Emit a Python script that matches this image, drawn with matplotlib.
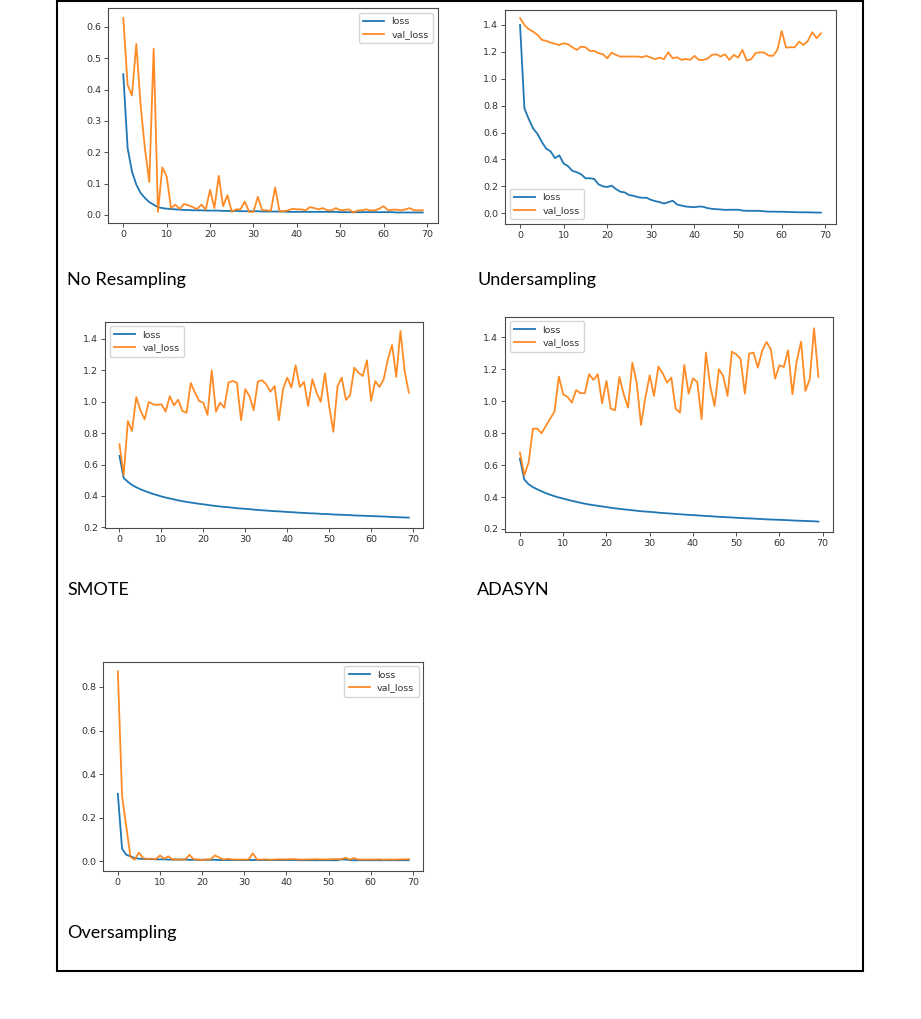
import matplotlib
matplotlib.use("Agg")
import matplotlib.pyplot as plt
from matplotlib.patches import Rectangle

epochs = list(range(70))

nores_loss = [0.449,0.213,0.139,0.097,0.070,0.054,0.041,0.033,0.025,0.022,
              0.020,0.019,0.018,0.017,0.016,0.016,0.015,0.015,0.015,0.014,
              0.014,0.014,0.014,0.013,0.013,0.013,0.013,0.012,0.012,0.012,
              0.012,0.012,0.011,0.011,0.011,0.011,0.011,0.011,0.010,0.010,
              0.010,0.010,0.010,0.010,0.010,0.010,0.010,0.010,0.010,0.010,
              0.009,0.009,0.009,0.009,0.009,0.009,0.009,0.009,0.009,0.009,
              0.009,0.009,0.009,0.008,0.008,0.008,0.008,0.008,0.008,0.008]
nores_val = [0.628,0.415,0.381,0.545,0.350,0.210,0.105,0.530,0.010,0.152,
             0.123,0.022,0.033,0.019,0.035,0.031,0.025,0.019,0.033,0.017,
             0.080,0.022,0.125,0.028,0.063,0.010,0.018,0.018,0.043,0.010,
             0.010,0.058,0.015,0.015,0.013,0.088,0.012,0.012,0.015,0.020,
             0.018,0.018,0.015,0.025,0.022,0.018,0.022,0.015,0.015,0.022,
             0.015,0.016,0.018,0.008,0.014,0.015,0.018,0.014,0.015,0.020,
             0.028,0.015,0.017,0.017,0.015,0.018,0.022,0.015,0.015,0.015]

under_loss = [1.400,0.780,0.700,0.630,0.590,0.530,0.480,0.460,0.410,0.430,
              0.370,0.350,0.315,0.305,0.290,0.260,0.260,0.255,0.215,0.200,
              0.195,0.205,0.180,0.160,0.155,0.135,0.130,0.120,0.115,0.115,
              0.100,0.090,0.083,0.072,0.082,0.093,0.065,0.057,0.050,0.047,
              0.045,0.050,0.048,0.038,0.033,0.030,0.028,0.025,0.026,0.026,
              0.026,0.020,0.018,0.018,0.018,0.018,0.014,0.012,0.012,0.011,
              0.011,0.010,0.009,0.008,0.007,0.007,0.007,0.006,0.005,0.005]
under_val = [1.450,1.400,1.368,1.350,1.326,1.289,1.281,1.269,1.259,1.251,
             1.264,1.256,1.234,1.214,1.239,1.234,1.207,1.207,1.190,1.182,
             1.152,1.194,1.177,1.165,1.165,1.165,1.165,1.165,1.160,1.170,
             1.157,1.145,1.157,1.145,1.197,1.152,1.160,1.140,1.147,1.140,
             1.170,1.140,1.140,1.150,1.177,1.182,1.165,1.182,1.140,1.177,
             1.157,1.214,1.135,1.145,1.190,1.197,1.194,1.172,1.170,1.214,
             1.355,1.231,1.234,1.234,1.276,1.251,1.281,1.346,1.301,1.338]

smote_loss = [0.655,0.515,0.490,0.470,0.455,0.443,0.432,0.422,0.413,0.405,
              0.397,0.390,0.384,0.378,0.372,0.367,0.362,0.358,0.354,0.350,
              0.347,0.343,0.339,0.336,0.333,0.330,0.328,0.325,0.322,0.320,
              0.318,0.316,0.313,0.311,0.309,0.307,0.305,0.303,0.302,0.300,
              0.298,0.297,0.295,0.293,0.292,0.290,0.289,0.288,0.286,0.285,
              0.284,0.282,0.281,0.280,0.279,0.278,0.276,0.275,0.274,0.273,
              0.272,0.271,0.270,0.269,0.268,0.266,0.265,0.264,0.263,0.262]
smote_val = [0.729,0.533,0.877,0.814,1.030,0.946,0.888,0.999,0.984,0.980,
             0.984,0.937,1.035,0.977,1.013,0.941,0.930,1.120,1.058,1.005,
             0.994,0.916,1.200,0.937,0.994,0.962,1.122,1.132,1.122,0.882,
             1.080,1.036,0.946,1.128,1.137,1.111,1.064,1.100,0.882,1.080,
             1.154,1.090,1.232,1.094,1.126,0.973,1.143,1.058,1.000,1.181,
             0.973,0.809,1.100,1.154,1.012,1.043,1.217,1.185,1.164,1.264,
             1.005,1.132,1.094,1.143,1.270,1.362,1.158,1.451,1.196,1.058]

adasyn_loss = [0.640,0.510,0.480,0.462,0.448,0.436,0.424,0.414,0.405,0.397,
               0.390,0.383,0.376,0.370,0.364,0.358,0.353,0.349,0.345,0.341,
               0.337,0.333,0.329,0.326,0.323,0.320,0.317,0.314,0.311,0.309,
               0.307,0.305,0.302,0.300,0.298,0.296,0.294,0.292,0.290,0.288,
               0.287,0.285,0.283,0.281,0.280,0.278,0.276,0.275,0.273,0.272,
               0.270,0.269,0.267,0.266,0.265,0.263,0.262,0.260,0.259,0.258,
               0.257,0.256,0.255,0.253,0.252,0.251,0.250,0.249,0.248,0.246]
adasyn_val = [0.678,0.536,0.615,0.828,0.828,0.799,0.845,0.891,0.935,1.154,
              1.043,1.027,0.991,1.070,1.050,1.050,1.169,1.133,1.169,0.987,
              1.127,0.953,0.943,1.152,1.043,0.960,1.241,1.116,0.851,1.022,
              1.162,1.033,1.216,1.175,1.116,1.148,0.953,0.928,1.227,1.047,
              1.143,1.120,0.887,1.304,1.095,0.970,1.200,1.158,1.033,1.310,
              1.294,1.266,1.047,1.298,1.304,1.210,1.315,1.371,1.325,1.141,
              1.225,1.214,1.319,1.043,1.252,1.373,1.064,1.137,1.457,1.152]

over_loss = [0.310,0.058,0.030,0.023,0.015,0.012,0.011,0.010,0.010,0.009,
             0.009,0.009,0.008,0.008,0.008,0.008,0.008,0.007,0.007,0.007,
             0.007,0.007,0.007,0.007,0.006,0.006,0.006,0.006,0.006,0.006,
             0.006,0.006,0.006,0.006,0.006,0.006,0.006,0.006,0.006,0.006,
             0.006,0.006,0.006,0.005,0.005,0.005,0.005,0.005,0.005,0.005,
             0.005,0.005,0.005,0.009,0.008,0.006,0.005,0.005,0.005,0.005,
             0.005,0.005,0.005,0.005,0.005,0.005,0.005,0.005,0.005,0.005]
over_val = [0.872,0.300,0.160,0.020,0.008,0.040,0.015,0.010,0.012,0.010,
            0.027,0.012,0.023,0.008,0.009,0.008,0.009,0.030,0.009,0.008,
            0.006,0.009,0.009,0.027,0.018,0.008,0.012,0.009,0.008,0.008,
            0.008,0.008,0.037,0.008,0.008,0.009,0.007,0.008,0.009,0.009,
            0.009,0.010,0.010,0.008,0.008,0.009,0.009,0.010,0.009,0.009,
            0.009,0.010,0.010,0.010,0.016,0.008,0.015,0.008,0.008,0.008,
            0.008,0.008,0.009,0.007,0.008,0.008,0.008,0.009,0.009,0.010]

titles = ["No Resampling", "Undersampling", "SMOTE", "ADASYN", "Oversampling"]
series_names = ["loss", "val_loss"]
x_ticks = [0, 10, 20, 30, 40, 50, 60, 70]

W, H = 921, 1019
fig = plt.figure(figsize=(W / 100, H / 100), dpi=100)
fig.patch.set_facecolor("white")

# pixel boxes: left, right, top, bottom
panels = [
    (108.3, 437.7, 8.3, 223.3, nores_loss, nores_val, (-0.0265, 0.659),
     [0.0, 0.1, 0.2, 0.3, 0.4, 0.5, 0.6], "upper right", (67, 280)),
    (505, 836, 10, 224, under_loss, under_val, (-0.08, 1.511),
     [0.0, 0.2, 0.4, 0.6, 0.8, 1.0, 1.2, 1.4], "lower left", (477, 280)),
    (105, 423.3, 321.7, 528.3, smote_loss, smote_val, (0.194, 1.51),
     [0.2, 0.4, 0.6, 0.8, 1.0, 1.2, 1.4], "upper left", (67, 590)),
    (505, 833.3, 316.7, 532.3, adasyn_loss, adasyn_val, (0.179, 1.529),
     [0.2, 0.4, 0.6, 0.8, 1.0, 1.2, 1.4], "upper left", (477, 590)),
    (103.3, 423.3, 661.7, 870.7, over_loss, over_val, (-0.043, 0.916),
     [0.0, 0.2, 0.4, 0.6, 0.8], "upper right", (67, 933)),
]

spine_col = "#4a4a4a"
tick_col = "#333333"
for (l, r, t, b, loss, val, ylim, yt, loc, lab), title in zip(panels, titles):
    ax = fig.add_axes([l / W, 1 - b / H, (r - l) / W, (b - t) / H])
    ax.plot(epochs, loss, color="#1f77b4", lw=1.3, label=series_names[0])
    ax.plot(epochs, val, color="#ff7f0e", lw=1.3, label=series_names[1], alpha=0.9)
    ax.set_xlim(-3.45, 72.45)
    ax.set_ylim(*ylim)
    ax.set_xticks(x_ticks)
    ax.set_yticks(yt)
    ax.set_yticklabels([f"{v:.1f}" for v in yt])
    ax.tick_params(labelsize=6.8, colors=tick_col, length=2.6, width=0.6, pad=2.5)
    for s in ax.spines.values():
        s.set_color(spine_col)
        s.set_linewidth(0.8)
    leg = ax.legend(loc=loc, fontsize=6.8, handlelength=2.2, borderpad=0.45,
                    labelspacing=0.4, framealpha=0.8)
    for txt in leg.get_texts():
        txt.set_color(tick_col)
    fig.text(lab[0] / W, 1 - lab[1] / H, title, fontsize=13, family="Lato",
             ha="left", va="center", color="black")

fig.add_artist(Rectangle((57 / W, 1 - 971 / H), (863 - 57) / W, (971 - 0.5) / H,
                         transform=fig.transFigure, fill=False,
                         edgecolor="black", linewidth=1.5))

fig.savefig("out.png", dpi=100, facecolor="white")
